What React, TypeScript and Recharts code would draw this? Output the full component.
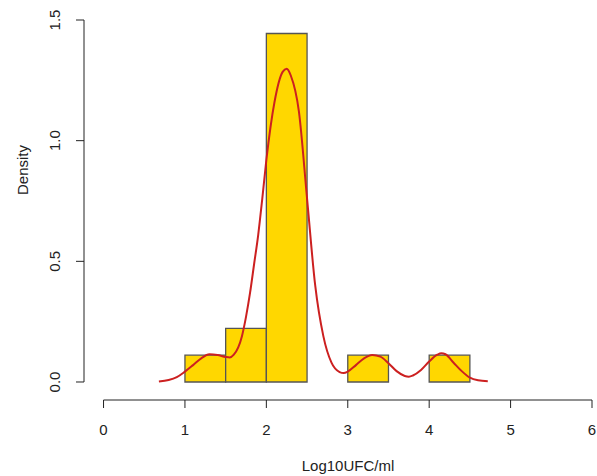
import { ComposedChart, Line, XAxis, YAxis, ReferenceArea, ReferenceLine } from 'recharts';

// histogram bins (Log10UFC/ml) and their densities
const binStarts = [1, 1.5, 2, 3, 4];
const binEnds = [1.5, 2, 2.5, 3.5, 4.5];
const binDensity = [0.111, 0.222, 1.444, 0.111, 0.111];

// kernel density curve
const curveX = [0.68, 0.8, 0.9, 1.0, 1.1, 1.2, 1.3, 1.4, 1.5, 1.55, 1.6, 1.7, 1.75, 1.8, 1.85, 1.9, 1.95, 2.0, 2.1, 2.2, 2.25, 2.3, 2.4, 2.5, 2.6, 2.7, 2.8, 2.9, 2.95, 3.0, 3.1, 3.2, 3.3, 3.4, 3.5, 3.6, 3.7, 3.75, 3.8, 3.9, 4.0, 4.1, 4.15, 4.2, 4.3, 4.4, 4.5, 4.6, 4.72];
const curveY = [0.002, 0.008, 0.02, 0.043, 0.07, 0.098, 0.115, 0.112, 0.104, 0.102, 0.113, 0.19, 0.27, 0.37, 0.49, 0.61, 0.76, 0.92, 1.16, 1.285, 1.298, 1.27, 1.12, 0.76, 0.4, 0.19, 0.08, 0.041, 0.037, 0.043, 0.07, 0.098, 0.112, 0.105, 0.078, 0.045, 0.025, 0.022, 0.027, 0.05, 0.085, 0.113, 0.119, 0.115, 0.08, 0.045, 0.018, 0.007, 0.003];

const xTicks = [0, 1, 2, 3, 4, 5, 6];
const yTicks = [0, 0.5, 1, 1.5];

const curve = curveX.map((x, i) => ({ x, d: curveY[i] }));

const FONT = '"Liberation Sans", Arial, sans-serif';

const XTick = ({ x, y, payload }: any) => (
  <text x={x} y={y + 25} textAnchor="middle" fontFamily={FONT} fontSize={15} fill="#222">
    {payload.value}
  </text>
);

const YTick = ({ x, y, payload }: any) => (
  <text
    x={0}
    y={0}
    transform={`translate(${x - 14},${y}) rotate(-90)`}
    textAnchor="middle"
    fontFamily={FONT}
    fontSize={15}
    fill="#222"
  >
    {payload.value.toFixed(1)}
  </text>
);

export default function App() {
  return (
    <div style={{ position: 'absolute', left: 0, top: 0, background: '#fff' }}>
      <ComposedChart width={597} height={476} data={curve} margin={{ top: 20, right: 5, bottom: 0, left: 0 }}>
        <XAxis
          type="number"
          dataKey="x"
          domain={[-0.24, 6]}
          ticks={xTicks}
          axisLine={false}
          tickLine={{ stroke: '#222' }}
          tickSize={8}
          tick={<XTick />}
          height={76}
          allowDataOverflow
        />
        <YAxis
          type="number"
          domain={[-0.0746, 1.5]}
          ticks={yTicks}
          axisLine={false}
          tickLine={{ stroke: '#222' }}
          tickSize={8}
          tick={<YTick />}
          width={84}
          allowDataOverflow
        />
        {binStarts.map((s, i) => (
          <ReferenceArea
            key={i}
            x1={s}
            x2={binEnds[i]}
            y1={0}
            y2={binDensity[i]}
            fill="#FFD700"
            fillOpacity={1}
            stroke="#555"
            strokeWidth={1.3}
            ifOverflow="visible"
          />
        ))}
        <ReferenceLine
          segment={[{ x: 0, y: -0.0746 }, { x: 6, y: -0.0746 }]}
          stroke="#222"
          ifOverflow="visible"
        />
        <ReferenceLine
          segment={[{ x: -0.24, y: 0 }, { x: -0.24, y: 1.5 }]}
          stroke="#222"
          ifOverflow="visible"
        />
        <Line
          type="monotone"
          dataKey="d"
          stroke="#CC2020"
          strokeWidth={2}
          dot={false}
          isAnimationActive={false}
        />
      </ComposedChart>
      <div
        style={{
          position: 'absolute',
          left: 348,
          top: 465,
          transform: 'translate(-50%,-50%)',
          fontFamily: FONT,
          fontSize: 15,
          color: '#222',
          whiteSpace: 'nowrap',
        }}
      >
        Log10UFC/ml
      </div>
      <div
        style={{
          position: 'absolute',
          left: 22,
          top: 170,
          transform: 'translate(-50%,-50%) rotate(-90deg)',
          fontFamily: FONT,
          fontSize: 15,
          color: '#222',
          whiteSpace: 'nowrap',
        }}
      >
        Density
      </div>
    </div>
  );
}
